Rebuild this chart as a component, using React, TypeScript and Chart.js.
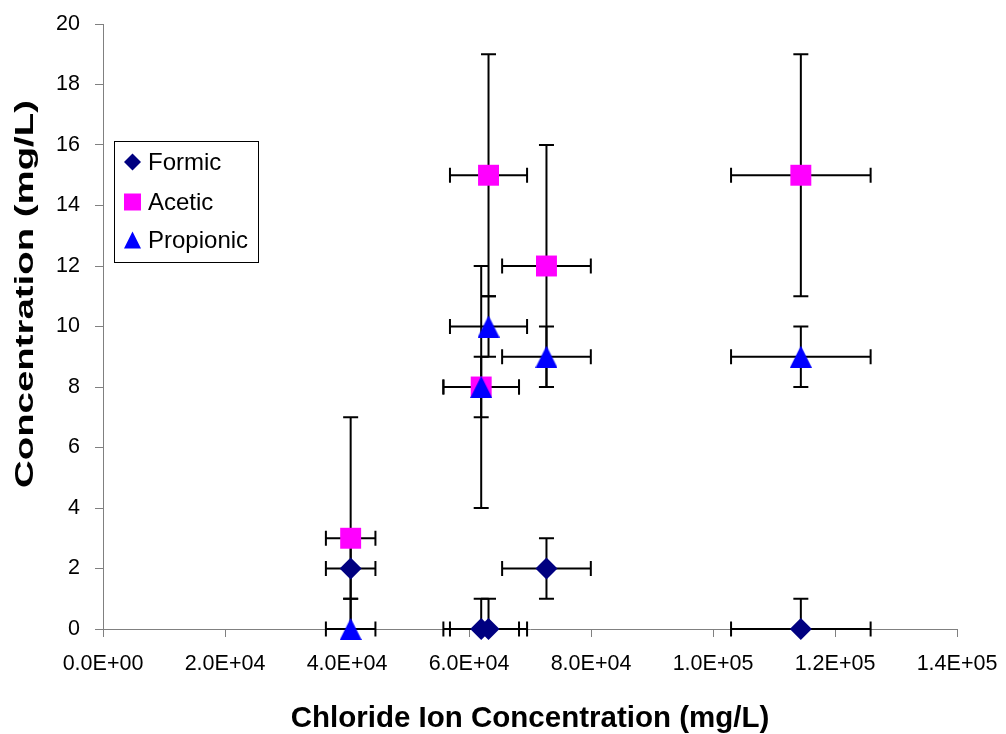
import React, { useEffect, useRef } from "react";
import { Chart, registerables } from "chart.js";

Chart.register(...registerables);

// ---- data ----
const seriesNames = ["Formic", "Acetic", "Propionic"];
const seriesColors = ["#000080", "#FF00FF", "#0000FF"];
const seriesShapes = ["diamond", "square", "triangle"];

const chlorideX = [40600, 62000, 63200, 72700, 114400];
const chlorideXErr = [4060, 6200, 6320, 7270, 11440];

const formicY = [2, 0, 0, 2, 0];
const formicYErr = [1, 1, 1, 1, 1];
const aceticY = [3, 8, 15, 12, 15];
const aceticYErr = [4, 4, 4, 4, 4];
const propionicY = [0, 8, 10, 9, 9];
const propionicYErr = [1, 1, 1, 1, 1];

const xTickLabels = ["0.0E+00", "2.0E+04", "4.0E+04", "6.0E+04", "8.0E+04", "1.0E+05", "1.2E+05", "1.4E+05"];
const yTickLabels = ["0", "2", "4", "6", "8", "10", "12", "14", "16", "18", "20"];

const xTitle = "Chloride Ion Concentration (mg/L)";
const yTitle = "Concentration (mg/L)";

const FONT = "'Liberation Sans', Arial, sans-serif";

function buildPoints(ys: number[], yErrs: number[]) {
  return chlorideX.map((x, i) => ({ x, y: ys[i], xErr: chlorideXErr[i], yErr: yErrs[i] }));
}

function makeTriangle(w: number, h: number, color: string) {
  const c = document.createElement("canvas");
  c.width = w;
  c.height = h;
  const g = c.getContext("2d")!;
  g.fillStyle = color;
  g.beginPath();
  g.moveTo(w / 2, 0);
  g.lineTo(w, h);
  g.lineTo(0, h);
  g.closePath();
  g.fill();
  return c;
}

const errorBarPlugin = {
  id: "errorBars",
  beforeDatasetsDraw(chart: any) {
    const { ctx, scales } = chart;
    const xs = scales.x;
    const ys = scales.y;
    const cap = 7.5;
    ctx.save();
    ctx.strokeStyle = "#000000";
    ctx.lineWidth = 2;
    chart.data.datasets.forEach((ds: any) => {
      ds.data.forEach((p: any) => {
        const px = xs.getPixelForValue(p.x);
        const py = ys.getPixelForValue(p.y);
        ctx.beginPath();
        const topV = Math.min(p.y + p.yErr, ys.max);
        const botV = Math.max(p.y - p.yErr, ys.min);
        const yTop = ys.getPixelForValue(topV);
        const yBot = ys.getPixelForValue(botV);
        ctx.moveTo(px, yTop);
        ctx.lineTo(px, yBot);
        if (topV === p.y + p.yErr) {
          ctx.moveTo(px - cap, yTop);
          ctx.lineTo(px + cap, yTop);
        }
        if (botV === p.y - p.yErr) {
          ctx.moveTo(px - cap, yBot);
          ctx.lineTo(px + cap, yBot);
        }
        const xL = xs.getPixelForValue(p.x - p.xErr);
        const xR = xs.getPixelForValue(p.x + p.xErr);
        ctx.moveTo(xL, py);
        ctx.lineTo(xR, py);
        ctx.moveTo(xL, py - cap);
        ctx.lineTo(xL, py + cap);
        ctx.moveTo(xR, py - cap);
        ctx.lineTo(xR, py + cap);
        ctx.stroke();
      });
    });
    ctx.restore();
  },
};

const titlesPlugin = {
  id: "axisTitles",
  afterDraw(chart: any) {
    const { ctx, chartArea } = chart;
    ctx.save();
    ctx.fillStyle = "#000000";
    ctx.font = `bold 29.5px ${FONT}`;
    ctx.textAlign = "center";
    ctx.textBaseline = "alphabetic";
    ctx.fillText(xTitle, (chartArea.left + chartArea.right) / 2, 727);
    ctx.font = `bold 26px ${FONT}`;
    const w = ctx.measureText(yTitle).width;
    ctx.translate(33, 294);
    ctx.rotate(-Math.PI / 2);
    ctx.scale(388 / w, 1);
    ctx.fillText(yTitle, 0, 0);
    ctx.restore();
  },
};

const legendPlugin = {
  id: "boxLegend",
  afterDraw(chart: any) {
    const { ctx } = chart;
    const bx = 114.5, by = 141.5, bw = 144, bh = 121;
    ctx.save();
    ctx.fillStyle = "#ffffff";
    ctx.fillRect(bx, by, bw, bh);
    ctx.strokeStyle = "#000000";
    ctx.lineWidth = 1;
    ctx.strokeRect(bx, by, bw, bh);
    const rowY = [162, 202, 240];
    const mx = 132.5;
    const half = 8.5;
    chart.data.datasets.forEach((ds: any, i: number) => {
      const cy = rowY[i];
      ctx.fillStyle = ds.backgroundColor;
      ctx.beginPath();
      const shape = ds.legendShape;
      if (shape === "diamond") {
        ctx.moveTo(mx, cy - half);
        ctx.lineTo(mx + half, cy);
        ctx.lineTo(mx, cy + half);
        ctx.lineTo(mx - half, cy);
      } else if (shape === "square") {
        ctx.rect(mx - half, cy - half, half * 2, half * 2);
      } else {
        ctx.moveTo(mx, cy - half);
        ctx.lineTo(mx + half, cy + half);
        ctx.lineTo(mx - half, cy + half);
      }
      ctx.closePath();
      ctx.fill();
      ctx.fillStyle = "#000000";
      ctx.font = `24px ${FONT}`;
      ctx.textAlign = "left";
      ctx.textBaseline = "middle";
      ctx.fillText(ds.label, 148, cy + 1);
    });
    ctx.restore();
  },
};

export default function App() {
  const ref = useRef<HTMLCanvasElement | null>(null);

  useEffect(() => {
    if (!ref.current) return;
    const triangle = makeTriangle(22, 22, seriesColors[2]);
    const seriesY = [formicY, aceticY, propionicY];
    const seriesYErr = [formicYErr, aceticYErr, propionicYErr];
    const styles: any[] = ["rectRot", "rect", triangle];
    const radii = [11, 14.8, 11];
    const orders = [2, 1, 0];

    const chart = new Chart(ref.current, {
      type: "scatter",
      data: {
        datasets: seriesNames.map((name, i) => ({
          label: name,
          data: buildPoints(seriesY[i], seriesYErr[i]),
          backgroundColor: seriesColors[i],
          borderColor: seriesColors[i],
          borderWidth: 0,
          pointStyle: styles[i],
          pointRadius: radii[i],
          pointBorderWidth: 0,
          showLine: false,
          clip: false,
          order: orders[i],
          legendShape: seriesShapes[i],
        })) as any,
      },
      options: {
        responsive: false,
        animation: false,
        events: [],
        layout: { padding: { top: 24, right: 49, left: 0, bottom: 0 } },
        plugins: {
          legend: { display: false },
          tooltip: { enabled: false },
          title: { display: false },
        },
        scales: {
          x: {
            type: "linear",
            min: 0,
            max: 140000,
            afterFit: (s: any) => {
              s.height = 105;
              s.paddingLeft = 0;
              s.paddingRight = 0;
            },
            ticks: {
              stepSize: 20000,
              autoSkip: false,
              maxRotation: 0,
              padding: 14,
              color: "#000000",
              font: { family: FONT, size: 21.5 },
              callback: (v: any) => xTickLabels[Math.round(Number(v) / 20000)],
            },
            grid: { drawOnChartArea: false, drawTicks: true, tickLength: 8, color: "#808080", lineWidth: 1 },
            border: { display: true, color: "#808080", width: 1 },
          },
          y: {
            type: "linear",
            min: 0,
            max: 20,
            afterFit: (s: any) => {
              s.width = 103;
              s.paddingTop = 0;
              s.paddingBottom = 0;
            },
            ticks: {
              stepSize: 2,
              autoSkip: false,
              padding: 15,
              color: "#000000",
              font: { family: FONT, size: 21.5 },
              callback: (v: any) => yTickLabels[Math.round(Number(v) / 2)],
            },
            grid: { drawOnChartArea: false, drawTicks: true, tickLength: 8, color: "#808080", lineWidth: 1 },
            border: { display: true, color: "#808080", width: 1 },
          },
        },
      },
      plugins: [errorBarPlugin, titlesPlugin, legendPlugin],
    });
    return () => chart.destroy();
  }, []);

  return (
    <div style={{ position: "absolute", left: 0, top: 0, width: 1006, height: 734, background: "#ffffff" }}>
      <canvas ref={ref} width={1006} height={734} style={{ display: "block" }} />
    </div>
  );
}
